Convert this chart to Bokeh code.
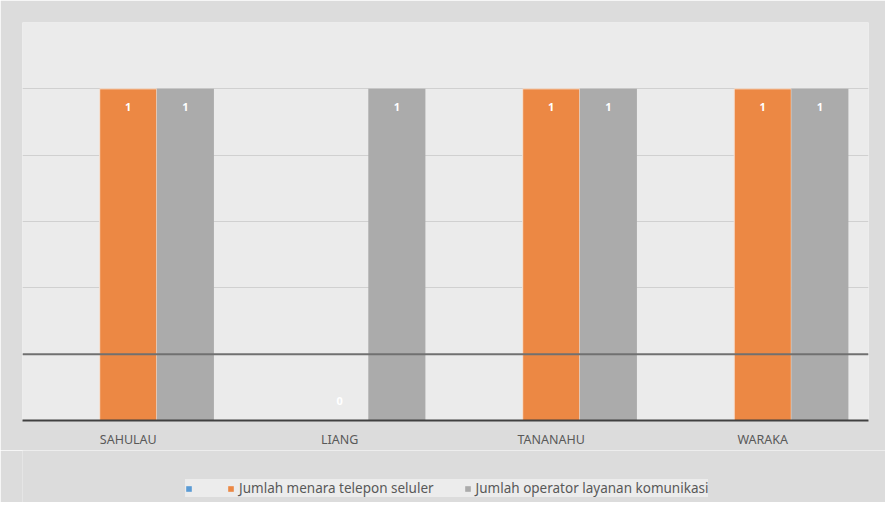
from bokeh.plotting import figure
from bokeh.models import ColumnDataSource, Legend, LegendItem, Span, FactorRange
from bokeh.layouts import column
from bokeh.transform import dodge
from bokeh.core.properties import value
from bokeh.embed import file_html
from bokeh.resources import INLINE

categories = ["SAHULAU", "LIANG", "TANANAHU", "WARAKA"]
series_blank = [0, 0, 0, 0]
menara = [1, 0, 1, 1]
operator = [1, 1, 1, 1]
label_menara = "Jumlah menara telepon seluler"
label_operator = "Jumlah operator layanan komunikasi"

c_blank, c_menara, c_operator = "#5B9BD5", "#EC8844", "#ABABAB"
BG = "#dcdcdc"

src = ColumnDataSource(dict(cat=categories, blank=series_blank, menara=menara, operator=operator))

p = figure(x_range=FactorRange(factors=categories), y_range=(0, 1.2),
           frame_width=846, frame_height=398,
           output_backend="svg", toolbar_location=None,
           min_border_left=22, min_border_right=17, min_border_top=22, min_border_bottom=2)
p.background_fill_color = "#ebebeb"
p.border_fill_color = BG
p.outline_line_color = None

bw = 0.27
p.vbar(x=dodge("cat", -bw, range=p.x_range), top="blank", width=bw, source=src,
       fill_color=c_blank, line_color=None)
p.vbar(x=dodge("cat", 0, range=p.x_range), top="menara", width=bw, source=src,
       fill_color=c_menara, line_color="#f6e3d6", line_width=1)
p.vbar(x=dodge("cat", bw, range=p.x_range), top="operator", width=bw, source=src,
       fill_color=c_operator, line_color=None)

# data labels
nz_m = ColumnDataSource(dict(cat=[c for c, v in zip(categories, menara) if v > 0],
                             v=[v for v in menara if v > 0],
                             t=[str(v) for v in menara if v > 0]))
z_m = ColumnDataSource(dict(cat=[c for c, v in zip(categories, menara) if v == 0],
                            v=[v for v in menara if v == 0],
                            t=[str(v) for v in menara if v == 0]))
nz_o = ColumnDataSource(dict(cat=[c for c, v in zip(categories, operator) if v > 0],
                             v=[v for v in operator if v > 0],
                             t=[str(v) for v in operator if v > 0]))
common = dict(text_color="white", text_font_size="11px", text_font_style="bold",
              text_align="center", text_baseline="middle", text_font=value("Open Sans"))
p.text(x=dodge("cat", 0, range=p.x_range), y="v", text="t", source=nz_m, y_offset=18, **common)
p.text(x=dodge("cat", bw, range=p.x_range), y="v", text="t", source=nz_o, y_offset=18, **common)
p.text(x=dodge("cat", 0, range=p.x_range), y="v", text="t", source=z_m, y_offset=-20, **common)

p.yaxis.visible = False
p.ygrid.ticker = [0.2, 0.4, 0.6, 0.8, 1.0, 1.2]
p.ygrid.grid_line_color = "#d0d0d0"
p.ygrid.grid_line_width = 1
p.xgrid.visible = False
p.add_layout(Span(location=0.2, dimension="width", line_color="#707070", line_width=2))

p.xaxis.axis_line_color = "#404040"
p.xaxis.axis_line_width = 2
p.xaxis.major_tick_line_color = None
p.xaxis.minor_tick_line_color = None
p.xaxis.major_tick_out = 0
p.xaxis.major_tick_in = 0
p.xaxis.major_label_text_font_size = "12.5px"
p.xaxis.major_label_text_color = "#595959"
p.xaxis.major_label_text_font = "Noto Sans"
p.xaxis.major_label_standoff = 10

# legend strip below the chart
pl = figure(frame_width=885, frame_height=52, x_range=(0, 1), y_range=(0, 1),
            output_backend="svg", toolbar_location=None,
            min_border_left=0, min_border_right=0, min_border_top=0, min_border_bottom=0)
pl.axis.visible = False
pl.grid.visible = False
pl.outline_line_color = None
pl.background_fill_color = BG
pl.border_fill_color = BG
helper = ColumnDataSource(dict(x=[0.5], top=[0]))
l0 = pl.vbar(x="x", top="top", width=0.01, source=helper, fill_color=c_blank, line_color=None)
l1 = pl.vbar(x="x", top="top", width=0.01, source=helper, fill_color=c_menara, line_color=None)
l2 = pl.vbar(x="x", top="top", width=0.01, source=helper, fill_color=c_operator, line_color=None)

legend = Legend(items=[LegendItem(label=" ", renderers=[l0]),
                       LegendItem(label=label_menara, renderers=[l1]),
                       LegendItem(label=label_operator, renderers=[l2])],
                orientation="horizontal", location=(185, 5),
                label_text_font_size="13.5px", label_text_color="#595959",
                label_text_font="Noto Sans", label_width=0, label_standoff=5,
                glyph_width=7, glyph_height=7, spacing=30,
                background_fill_color="#ececec", background_fill_alpha=1,
                border_line_color=None, padding=8, margin=0)
pl.add_layout(legend, "center")

open("out.html", "w").write(file_html(column(p, pl, spacing=0), INLINE))
